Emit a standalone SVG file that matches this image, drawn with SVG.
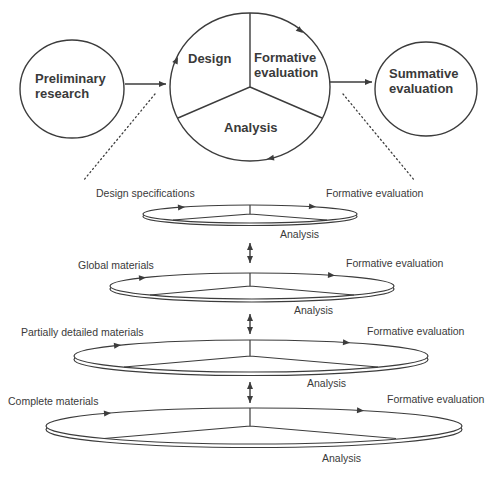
<svg xmlns="http://www.w3.org/2000/svg" width="495" height="480" viewBox="0 0 495 480">
<defs>
<style>
.ln{fill:none;stroke:#3c3c3c;stroke-width:1.4}
.el{fill:none;stroke:#3c3c3c;stroke-width:1.2}
.hd{fill:#3c3c3c;stroke:none}
.bt{font-family:"Liberation Sans",Arial,sans-serif;font-weight:bold;font-size:13px;fill:#3a3a3a}
.rt{font-family:"Liberation Sans",Arial,sans-serif;font-size:10.5px;fill:#3a3a3a}
.dot{fill:none;stroke:#3c3c3c;stroke-width:1.3;stroke-dasharray:1.2 3;stroke-linecap:round}
</style>
<path id="ah" d="M0,0 L-7,-3 L-7,3 Z"/>
<marker id="arr" markerWidth="8" markerHeight="8" refX="7" refY="3" orient="auto" markerUnits="userSpaceOnUse">
<path d="M0,0 L7,3 L0,6 Z" fill="#3c3c3c"/>
</marker>
<marker id="arrS" markerWidth="8" markerHeight="8" refX="0" refY="3" orient="auto" markerUnits="userSpaceOnUse">
<path d="M7,0 L0,3 L7,6 Z" fill="#3c3c3c"/>
</marker>
</defs>
<rect width="495" height="480" fill="#ffffff"/>

<g id="preliminary">
<ellipse class="ln" cx="72" cy="89" rx="52" ry="49"/>
<text class="bt" x="35" y="83">Preliminary</text>
<text class="bt" x="35" y="98">research</text>
</g>

<g id="cycle">
<ellipse class="ln" cx="250" cy="87" rx="80" ry="74"/>
<path class="ln" d="M250,13 L250,87 L178,118 M250,87 L322,118"/>
<use href="#ah" class="hd" transform="translate(303,33) rotate(40)"/>
<use href="#ah" class="hd" transform="translate(178,57) rotate(-64)"/>
<use href="#ah" class="hd" transform="translate(267,159) rotate(169)"/>
<text class="bt" x="188" y="63">Design</text>
<text class="bt" x="254" y="62">Formative</text>
<text class="bt" x="254" y="77">evaluation</text>
<text class="bt" x="224" y="132">Analysis</text>
</g>

<g id="summative">
<ellipse class="ln" cx="426" cy="89" rx="51" ry="47"/>
<text class="bt" x="389" y="78">Summative</text>
<text class="bt" x="389" y="93">evaluation</text>
</g>

<g id="level1">
<ellipse class="el" cx="250" cy="216.5" rx="107" ry="9"/>
<ellipse class="el" cx="250" cy="214" rx="107" ry="9" fill="#fff" style="fill:#fff"/>
<path class="el" d="M250,205 L250,214 L173,220 M250,214 L327,220"/>
<use href="#ah" class="hd" transform="translate(185,206.9) rotate(-4)"/>
<use href="#ah" class="hd" transform="translate(316,206.8) rotate(3.5)"/>
<text class="rt" x="96" y="197">Design specifications</text>
<text class="rt" x="326" y="197">Formative evaluation</text>
<text class="rt" x="280" y="238">Analysis</text>
</g>

<g id="level2">
<ellipse class="el" cx="252" cy="289" rx="142" ry="13"/>
<ellipse class="el" cx="252" cy="286" rx="142" ry="13" style="fill:#fff"/>
<path class="el" d="M250,273 L250,286 L150,295 M250,286 L354,295"/>
<use href="#ah" class="hd" transform="translate(146,277.4) rotate(-6)"/>
<use href="#ah" class="hd" transform="translate(335,275.4) rotate(3.6)"/>
<text class="rt" x="78" y="269">Global materials</text>
<text class="rt" x="346" y="267">Formative evaluation</text>
<text class="rt" x="294" y="314">Analysis</text>
</g>

<g id="level3">
<ellipse class="el" cx="251" cy="359.5" rx="177" ry="16"/>
<ellipse class="el" cx="251" cy="356" rx="177" ry="16" style="fill:#fff"/>
<path class="el" d="M250,340 L250,356 L124,367 M250,356 L378,367"/>
<use href="#ah" class="hd" transform="translate(121,345) rotate(-6)"/>
<use href="#ah" class="hd" transform="translate(350,342.7) rotate(3.3)"/>
<text class="rt" x="21" y="336">Partially detailed materials</text>
<text class="rt" x="367" y="335">Formative evaluation</text>
<text class="rt" x="307" y="387">Analysis</text>
</g>

<g id="level4">
<ellipse class="el" cx="254" cy="429.5" rx="208" ry="18"/>
<ellipse class="el" cx="254" cy="426" rx="208" ry="18" style="fill:#fff"/>
<path class="el" d="M250,408 L250,426 L104,438.5 M250,426 L396,438.5"/>
<use href="#ah" class="hd" transform="translate(111,413) rotate(-5)"/>
<use href="#ah" class="hd" transform="translate(364,410.7) rotate(3)"/>
<text class="rt" x="8" y="405">Complete materials</text>
<text class="rt" x="387" y="403">Formative evaluation</text>
<text class="rt" x="322" y="462">Analysis</text>
</g>

<g id="connectors">
<line class="ln" x1="125" y1="84" x2="166" y2="84" marker-end="url(#arr)"/>
<line class="ln" x1="330" y1="82" x2="372" y2="82" marker-end="url(#arr)"/>
<line class="dot" x1="155" y1="94" x2="83" y2="181"/>
<line class="dot" x1="343" y1="94" x2="415" y2="181"/>
<line class="ln" x1="250" y1="243" x2="250" y2="263" stroke-width="1.6" marker-start="url(#arrS)" marker-end="url(#arr)"/>
<line class="ln" x1="250" y1="314" x2="250" y2="334" stroke-width="1.6" marker-start="url(#arrS)" marker-end="url(#arr)"/>
<line class="ln" x1="250" y1="382" x2="250" y2="403" stroke-width="1.6" marker-start="url(#arrS)" marker-end="url(#arr)"/>
</g>
</svg>
